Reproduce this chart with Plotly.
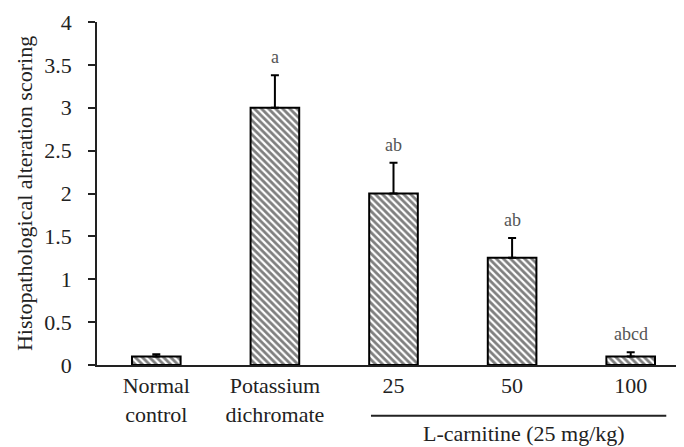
import plotly.graph_objects as go

categories = ["Normal<br>control", "Potassium<br>dichromate", "25", "50", "100"]
means = [0.10, 3.00, 2.00, 1.25, 0.10]
errors = [0.025, 0.38, 0.36, 0.23, 0.05]
sig_labels = ["", "a", "ab", "ab", "abcd"]
group_label = "L-carnitine (25 mg/kg)"
y_title = "Histopathological alteration scoring"

FONT = "Liberation Serif"
xpos = list(range(len(categories)))

fig = go.Figure()
fig.add_trace(go.Bar(
    x=xpos,
    y=means,
    width=0.41,
    marker=dict(
        color="white",
        line=dict(color="black", width=2),
        pattern=dict(shape="\\", size=5, solidity=0.55, fgcolor="black", bgcolor="white"),
    ),
    error_y=dict(type="data", array=errors, arrayminus=[0] * len(errors),
                 symmetric=False, color="black", thickness=2, width=4),
    showlegend=False,
))

for xi, m, e, lab in zip(xpos, means, errors, sig_labels):
    if lab:
        fig.add_annotation(x=xi, y=m + e, text=lab, showarrow=False,
                           yanchor="middle", yshift=18,
                           font=dict(family=FONT, size=18, color="#555"))

# bracket under the L-carnitine doses
fig.add_shape(type="line", xref="x", yref="paper", x0=1.81, x1=4.30, y0=-0.148, y1=-0.148,
              line=dict(color="#222", width=2))
fig.add_annotation(xref="x", yref="paper", x=3.1, y=-0.20, text=group_label, showarrow=False,
                   yanchor="middle", font=dict(family=FONT, size=22, color="#222"))

fig.update_layout(
    width=684, height=447,
    margin=dict(l=89, r=2, t=9, b=90),
    paper_bgcolor="white", plot_bgcolor="white",
    font=dict(family=FONT, size=22, color="#222"),
    xaxis=dict(range=[-0.5, 4.5], tickvals=xpos, ticktext=categories,
               showline=True, linecolor="#222", linewidth=1.5, ticks="",
               showgrid=False, zeroline=False,
               tickfont=dict(family=FONT, size=22, color="#222")),
    yaxis=dict(range=[0, 4], dtick=0.5, showline=True, linecolor="#222", linewidth=1.5,
               ticks="outside", ticklen=7, tickwidth=1.5, tickcolor="#222",
               showgrid=False, zeroline=False, ticklabeloverflow="allow",
               ticklabelstandoff=12,
               title=dict(text=y_title, font=dict(family=FONT, size=22, color="#222"), standoff=6),
               tickfont=dict(family=FONT, size=22, color="#222")),
)

fig.write_html("out.html")
